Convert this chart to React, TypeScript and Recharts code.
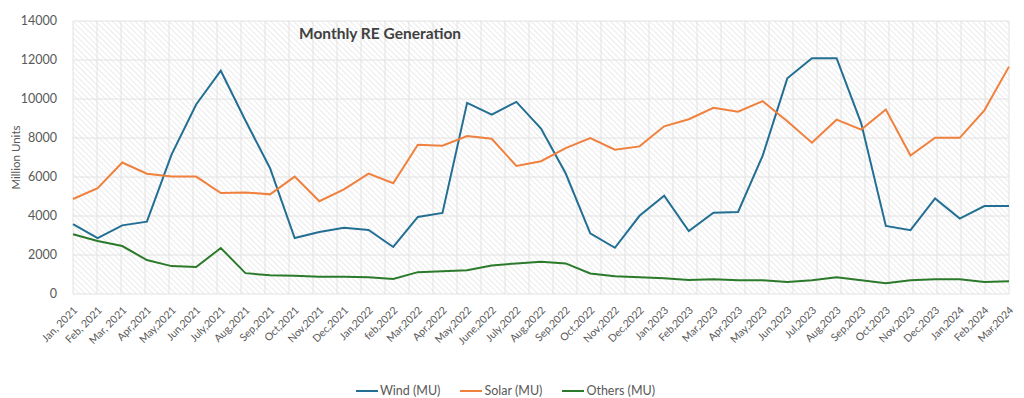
import { LineChart, Line, XAxis, YAxis, CartesianGrid, Legend, Label } from "recharts";

const months = [
  "Jan, 2021", "Feb, 2021", "Mar, 2021", "Apr,2021", "May,2021", "Jun,2021", "July,2021", "Aug,2021",
  "Sep,2021", "Oct,2021", "Nov,2021", "Dec,2021", "Jan,2022", "feb,2022", "Mar,2022", "Apr,2022",
  "May,2022", "June,2022", "July,2022", "Aug,2022", "Sep,2022", "Oct,2022", "Nov,2022", "Dec,2022",
  "Jan,2023", "Feb,2023", "Mar,2023", "Apr,2023", "May,2023", "Jun,2023", "Jul,2023", "Aug,2023",
  "Sep,2023", "Oct,2023", "Nov,2023", "Dec,2023", "Jan,2024", "Feb,2024", "Mar,2024",
];

const wind = [
  3580, 2860, 3520, 3710, 7150, 9720, 11450, 8900, 6450, 2870, 3180, 3400, 3280,
  2410, 3950, 4160, 9800, 9200, 9850, 8480, 6190, 3110, 2370, 4010, 5040, 3230,
  4170, 4210, 7100, 11060, 12090, 12090, 8750, 3490, 3270, 4900, 3870, 4510, 4510,
];

const solar = [
  4870, 5430, 6740, 6170, 6020, 6020, 5180, 5210, 5110, 6020, 4760, 5370, 6170,
  5680, 7650, 7600, 8100, 7960, 6570, 6810, 7480, 8000, 7400, 7570, 8600, 8960,
  9550, 9350, 9890, 8860, 7760, 8940, 8430, 9460, 7100, 8010, 8010, 9420, 11660,
];

const others = [
  3060, 2720, 2460, 1740, 1430, 1380, 2360, 1070, 960, 930, 890, 880, 860,
  770, 1120, 1170, 1220, 1460, 1570, 1650, 1570, 1050, 910, 860, 810, 720,
  760, 710, 710, 620, 710, 860, 710, 550, 710, 760, 760, 620, 650,
];

const yTicks = [0, 2000, 4000, 6000, 8000, 10000, 12000, 14000];

const data = months.map((m, i) => ({
  month: m,
  wind: wind[i],
  solar: solar[i],
  others: others[i],
}));

const AxisTick = (props: any) => {
  const { x, y, payload } = props;
  const ax = x + 5;
  const ay = y + 9;
  return (
    <text
      x={ax}
      y={ay}
      textAnchor="end"
      fontSize={10.5}
      fill="#595959"
      fontFamily="Lato, 'Open Sans', sans-serif"
      transform={`rotate(-45, ${ax}, ${ay})`}
    >
      {payload.value}
    </text>
  );
};

const legendItems = [
  { label: "Wind (MU)", color: "#236f94" },
  { label: "Solar (MU)", color: "#f0803d" },
  { label: "Others (MU)", color: "#2b7a2b" },
];

const LegendContent = () => (
  <div style={{ display: "flex", justifyContent: "center", gap: 20, paddingRight: 8, fontFamily: "Lato, sans-serif", fontSize: 12.5, lineHeight: "14px", color: "#595959" }}>
    {legendItems.map(it => (
      <div key={it.label} style={{ display: "flex", alignItems: "center" }}>
        <span style={{ display: "inline-block", width: 22, height: 2, background: it.color, marginRight: 2 }} />
        {it.label}
      </div>
    ))}
  </div>
);

export default function App() {
  const n = months.length;
  return (
    <div style={{ position: "absolute", left: 0, top: 0, width: 1024, height: 398, background: "#fff" }}>
      <LineChart width={1024} height={398} data={data} margin={{ top: 21, right: 15, bottom: 0, left: 10 }}>
        <defs>
          <pattern id="hatch" width="4" height="4" patternUnits="userSpaceOnUse" patternTransform="rotate(-45)">
            <line x1="0" y1="0" x2="0" y2="4" stroke="#dedede" strokeWidth="1.2" />
          </pattern>
        </defs>
        <CartesianGrid
          fill="url(#hatch)"
          stroke="#e2e2e2"
          strokeWidth={1}
          verticalCoordinatesGenerator={({ offset }: any) =>
            Array.from({ length: n + 1 }, (_, i) => offset.left + (i * offset.width) / n)
          }
          horizontalCoordinatesGenerator={({ offset }: any) =>
            yTicks.map(t => offset.top + offset.height - (t / 14000) * offset.height)
          }
        />
        <XAxis
          dataKey="month"
          interval={0}
          axisLine={false}
          tickLine={false}
          height={10}
          tick={<AxisTick />}
        />
        <YAxis
          domain={[0, 14000]}
          ticks={yTicks}
          width={63}
          axisLine={false}
          tickLine={false}
          tickSize={0}
          tickMargin={16}
          tick={{ fontSize: 12.5, fill: "#595959", fontFamily: "Lato, sans-serif" }}
        >
          <Label
            value="Million Units"
            angle={-90}
            position="insideLeft"
            offset={6}
            style={{ textAnchor: "middle", fontSize: 11.5, fill: "#595959", fontFamily: "Lato, sans-serif" }}
          />
        </YAxis>
        <Legend verticalAlign="bottom" height={14} content={<LegendContent />} wrapperStyle={{ paddingTop: 80 }} />
        <Line type="linear" dataKey="wind" name="Wind (MU)" stroke="#236f94" strokeWidth={2} dot={false} isAnimationActive={false} />
        <Line type="linear" dataKey="solar" name="Solar (MU)" stroke="#f0803d" strokeWidth={2} dot={false} isAnimationActive={false} />
        <Line type="linear" dataKey="others" name="Others (MU)" stroke="#2b7a2b" strokeWidth={2} dot={false} isAnimationActive={false} />
        <text x={299} y={39} fontSize={15.5} fontWeight="bold" fill="#404040" fontFamily="Lato, sans-serif">
          Monthly RE Generation
        </text>
      </LineChart>
    </div>
  );
}
